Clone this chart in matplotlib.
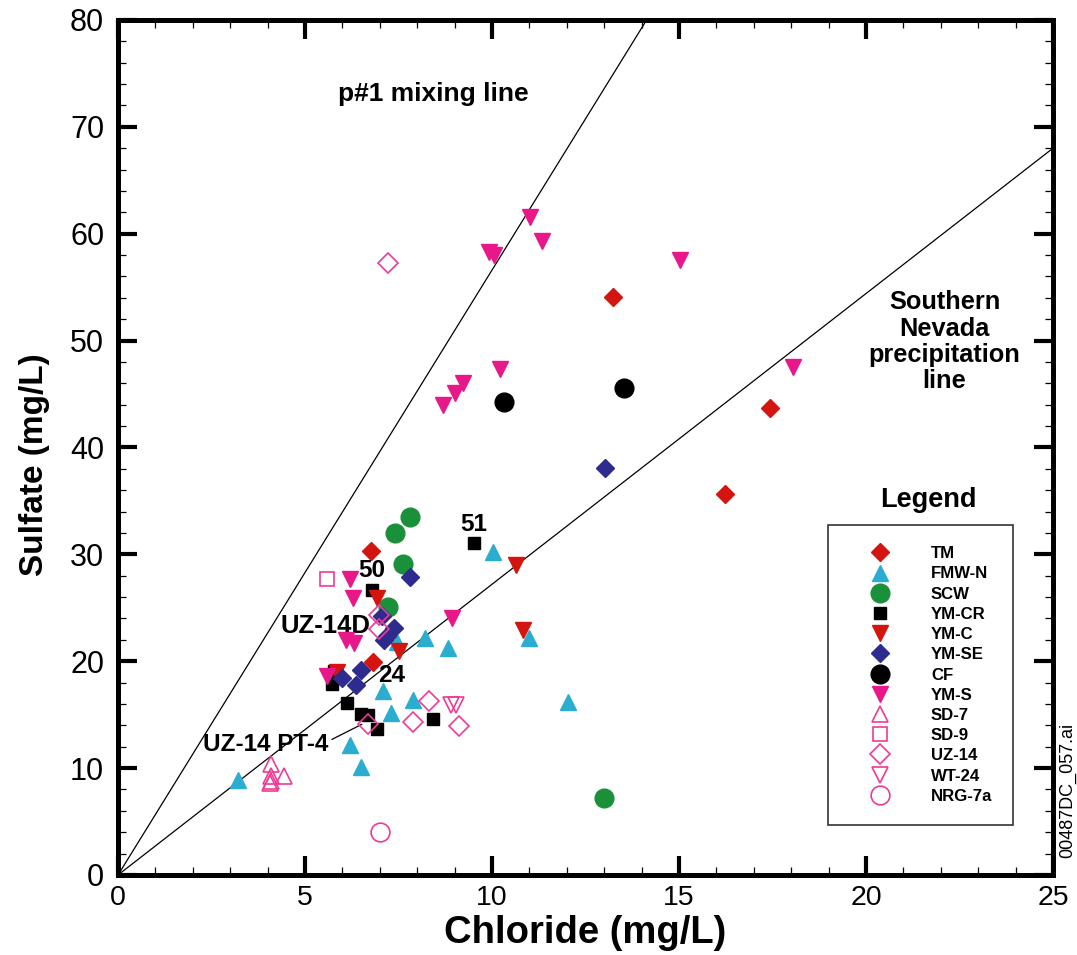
import matplotlib
matplotlib.use('Agg')
import matplotlib.pyplot as plt
from matplotlib.ticker import MultipleLocator

plt.rcParams['font.family'] = ['Liberation Sans', 'DejaVu Sans']

# ---------------- data ----------------
TM_x = [13.24, 17.43, 16.23, 6.76, 6.83]
TM_y = [54.1, 43.7, 35.6, 30.3, 19.9]

FMWN_x = [3.21, 6.2, 6.5, 7.09, 7.3, 7.89, 8.2, 8.82, 10.02, 11.0, 12.02, 7.46]
FMWN_y = [8.9, 12.2, 10.1, 17.2, 15.2, 16.4, 22.2, 21.2, 30.2, 22.2, 16.2, 21.8]

SCW_x = [7.41, 7.8, 7.62, 7.22, 13.0]
SCW_y = [32.0, 33.5, 29.1, 25.1, 7.2]

YMCR_x = [9.52, 6.8, 5.78, 5.71, 6.11, 6.51, 6.69, 6.92, 8.43]
YMCR_y = [31.1, 26.7, 19.1, 17.9, 16.1, 15.1, 15.0, 13.7, 14.6]

YMC_x = [6.93, 7.5, 5.85, 10.63, 10.82]
YMC_y = [25.9, 21.0, 19.0, 29.0, 22.9]

YMSE_x = [13.02, 7.8, 7.05, 7.38, 7.2, 7.1, 6.49, 6.0, 6.35]
YMSE_y = [38.1, 27.9, 24.2, 23.1, 22.4, 22.0, 19.2, 18.4, 17.8]

CF_x = [10.32, 13.53]
CF_y = [44.3, 45.6]

YMS_x = [11.02, 11.33, 9.93, 10.05, 15.03, 10.21, 9.22, 9.01, 8.7, 18.04,
         8.92, 6.2, 6.27, 6.09, 6.32, 5.58]
YMS_y = [61.6, 59.3, 58.3, 58.0, 57.5, 47.3, 46.0, 45.1, 44.0, 47.5,
         24.0, 27.7, 25.9, 22.0, 21.7, 18.6]

SD7_x = [4.08, 4.08, 4.1, 4.44, 4.05]
SD7_y = [10.4, 9.3, 8.8, 9.3, 8.6]

SD9_x = [5.6]
SD9_y = [27.7]

UZ14_x = [7.22, 6.97, 6.99, 8.32, 9.13, 7.9, 6.69]
UZ14_y = [57.3, 24.3, 23.0, 16.3, 13.9, 14.35, 14.1]

WT24_x = [8.9, 9.05]
WT24_y = [15.9, 15.9]

NRG_x = [7.0]
NRG_y = [4.05]

# reference line slopes (sulfate / chloride)
mixing_slope = 5.66
precip_slope = 2.72
line_x = [0, 25]

x_ticks = [0, 5, 10, 15, 20, 25]
y_ticks = [0, 10, 20, 30, 40, 50, 60, 70, 80]

# ---------------- figure ----------------
fig = plt.figure(figsize=(10.77, 9.55), dpi=100)
ax = fig.add_axes([0.1096, 0.0838, 0.8681, 0.8953])

ax.plot(line_x, [mixing_slope * v for v in line_x], color='black', lw=0.9, zorder=1)
ax.plot(line_x, [precip_slope * v for v in line_x], color='black', lw=0.9, zorder=1)

red = '#d4150f'
cyan = '#2badd0'
green = '#1b903a'
navy = '#2d2c8e'
mag = '#e8178a'
pink = '#ee3b96'

series = [
    ('TM', TM_x, TM_y, dict(marker='D', ms=9.3, mfc=red, mec=red)),
    ('FMW-N', FMWN_x, FMWN_y, dict(marker='^', ms=11.5, mfc=cyan, mec=cyan)),
    ('SCW', SCW_x, SCW_y, dict(marker='o', ms=13.5, mfc=green, mec=green)),
    ('YM-CR', YMCR_x, YMCR_y, dict(marker='s', ms=9.3, mfc='black', mec='black')),
    ('YM-C', YMC_x, YMC_y, dict(marker='v', ms=11.5, mfc=red, mec=red)),
    ('YM-SE', YMSE_x, YMSE_y, dict(marker='D', ms=9.3, mfc=navy, mec=navy)),
    ('CF', CF_x, CF_y, dict(marker='o', ms=13.5, mfc='black', mec='black')),
    ('YM-S', YMS_x, YMS_y, dict(marker='v', ms=11.5, mfc=mag, mec=mag)),
    ('SD-7', SD7_x, SD7_y, dict(marker='^', ms=12, mfc='none', mec=pink, mew=1.2)),
    ('SD-9', SD9_x, SD9_y, dict(marker='s', ms=9.5, mfc='none', mec=pink, mew=1.2)),
    ('UZ-14', UZ14_x, UZ14_y, dict(marker='D', ms=9.8, mfc='none', mec=pink, mew=1.2)),
    ('WT-24', WT24_x, WT24_y, dict(marker='v', ms=12, mfc='none', mec=pink, mew=1.2)),
    ('NRG-7a', NRG_x, NRG_y, dict(marker='o', ms=13.5, mfc='none', mec=pink, mew=1.2)),
]

handles = []
for i, (name, xs, ys, st) in enumerate(series):
    h, = ax.plot(xs, ys, linestyle='none', label=name, zorder=3 + i * 0.01, **st)
    handles.append(h)

ax.set_xlim(0, 25)
ax.set_ylim(0, 80)
ax.set_xticks(x_ticks)
ax.set_yticks(y_ticks)
ax.xaxis.set_minor_locator(MultipleLocator(1))
ax.yaxis.set_minor_locator(MultipleLocator(2))
ax.tick_params(which='major', direction='in', length=14, width=3,
               top=True, right=True)
ax.tick_params(which='minor', direction='in', length=6, width=0.9,
               top=True, right=True)
ax.tick_params(axis='x', which='major', pad=7, labelsize=20.5)
ax.tick_params(axis='y', which='major', pad=10, labelsize=22)
for sp in ax.spines.values():
    sp.set_linewidth(3.6)

ax.set_xlabel('Chloride (mg/L)', fontsize=27.5, fontweight='bold', va='center')
ax.xaxis.set_label_coords(0.4995, -0.068)
ax.set_ylabel('Sulfate (mg/L)', fontsize=24, fontweight='bold', va='center')
ax.yaxis.set_label_coords(-0.089, 0.48)

# annotations
ax.text(8.42, 73.1, 'p#1 mixing line', fontsize=19, fontweight='bold',
        ha='center', va='center')
ax.text(22.1, 49.9, 'Southern\nNevada\nprecipitation\nline', fontsize=18.3,
        fontweight='bold', ha='center', va='center', linespacing=1.115)
ax.text(6.78, 28.5, '50', fontsize=17.5, fontweight='bold', ha='center', va='center')
ax.text(9.52, 32.8, '51', fontsize=17.5, fontweight='bold', ha='center', va='center')
ax.text(5.55, 23.3, 'UZ-14D', fontsize=18.5, fontweight='bold', ha='center', va='center')
ax.text(7.32, 18.7, '24', fontsize=17.5, fontweight='bold', ha='center', va='center')
ax.annotate('UZ-14 PT-4', xy=(6.52, 14.1), xytext=(3.94, 12.25),
            fontsize=17.5, fontweight='bold', ha='center', va='center',
            arrowprops=dict(arrowstyle='-', color='black', lw=0.9,
                            shrinkA=0, shrinkB=0, relpos=(1.03, 0.7)))

ax.text(21.66, 35.1, 'Legend', fontsize=19.5, fontweight='bold',
        ha='center', va='center')

leg = ax.legend(handles=handles, loc='upper left', bbox_to_anchor=(0.759, 0.409),
                borderaxespad=0, frameon=True, fancybox=False, numpoints=1,
                prop=dict(size=12.1, weight='bold'), borderpad=1.25,
                handlelength=3.7, handletextpad=1.2, labelspacing=0.31)
leg.get_frame().set_edgecolor('black')
leg.get_frame().set_linewidth(1.2)

fig.text(0.9915, 0.172, '00487DC_057.ai', rotation=90, fontsize=13,
         ha='center', va='center')

fig.savefig('out.png', dpi=100)
